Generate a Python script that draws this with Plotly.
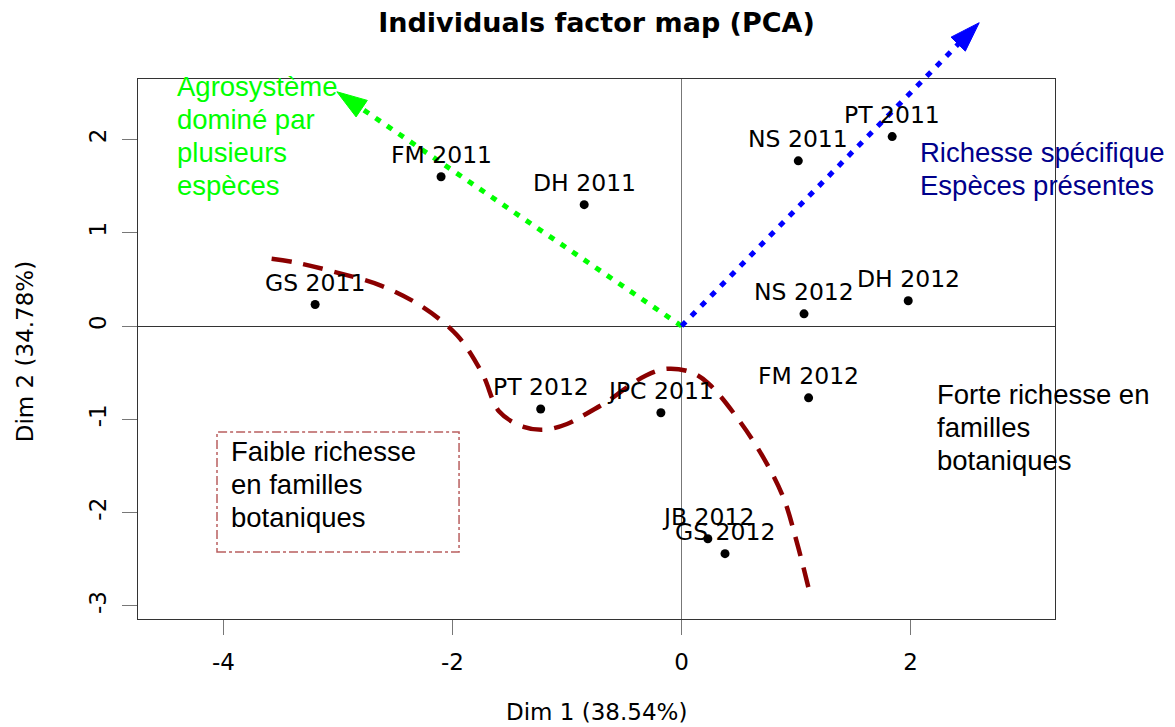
import math
import plotly.graph_objects as go

# ---------------- data ----------------
labels = ["FM 2011", "DH 2011", "GS 2011", "NS 2011", "PT 2011", "NS 2012",
          "DH 2012", "PT 2012", "JPC 2011", "FM 2012", "JB 2012", "GS 2012"]
dim1 = [-2.10, -0.85, -3.20, 1.02, 1.84, 1.07, 1.98, -1.23, -0.18, 1.11, 0.23, 0.38]
dim2 = [1.60, 1.30, 0.23, 1.77, 2.03, 0.13, 0.27, -0.89, -0.93, -0.77, -2.28, -2.44]

curve_x = [-3.58, -3.37, -3.00, -2.62, -2.27, -1.96, -1.74, -1.59, -1.38, -1.19,
           -1.00, -0.83, -0.65, -0.48, -0.31, -0.14, 0.07, 0.23, 0.49, 0.71, 0.89, 1.01, 1.11]
curve_y = [0.72, 0.68, 0.57, 0.43, 0.21, -0.10, -0.51, -0.92, -1.08, -1.11,
           -1.05, -0.94, -0.81, -0.66, -0.53, -0.46, -0.49, -0.61, -0.99, -1.40, -1.84, -2.33, -2.81]

arrow_tip_x = [-3.01, 2.60]
arrow_tip_y = [2.51, 3.25]
arrow_colors = ["#00FF00", "#0000FF"]

x_ticks = [-4, -2, 0, 2]
y_ticks = [-3, -2, -1, 0, 1, 2]

title_text = "Individuals factor map (PCA)"
x_title = "Dim 1 (38.54%)"
y_title = "Dim 2 (34.78%)"

green_lines = ["Agrosystème", "dominé par", "plusieurs", "espèces"]
blue_lines = ["Richesse spécifique", "Espèces présentes"]
forte_lines = ["Forte richesse en", "familles", "botaniques"]
faible_lines = ["Faible richesse", "en familles", "botaniques"]

# ---------------- layout geometry ----------------
# the page body has an 8px margin, so the figure is 8px smaller on the right/bottom
OFF = 8
FIG_W, FIG_H = 1175 - OFF, 727 - OFF
ML, MT = 138 - OFF, 79 - OFF
MR, MB = FIG_W - (1055 - OFF), FIG_H - (619 - OFF)
PW, PH = FIG_W - ML - MR, FIG_H - MT - MB
XR = [-4.747, 3.262]
YR = [-3.140, 2.647]


def to_px(x, y):
    return (ML + (x - XR[0]) / (XR[1] - XR[0]) * PW,
            MT + (YR[1] - y) / (YR[1] - YR[0]) * PH)


def px_to_paper(px, py):
    return ((px - ML) / PW, (MT + PH - py) / PH)


fig = go.Figure()

# dashed dark-red curve
fig.add_trace(go.Scatter(
    x=curve_x, y=curve_y, mode="lines",
    line=dict(color="#8B0000", width=4.5, dash="20px,12px", shape="spline", smoothing=1.0),
    hoverinfo="skip", showlegend=False))

# individuals
fig.add_trace(go.Scatter(
    x=dim1, y=dim2, mode="markers",
    marker=dict(color="black", size=9),
    showlegend=False, hoverinfo="text", text=labels))

shapes = []
annotations = []

# arrows (dotted line + filled head), drawn in paper space so they can leave the plot area
ox, oy = to_px(0, 0)
for tx, ty, col in zip(arrow_tip_x, arrow_tip_y, arrow_colors):
    px, py = to_px(tx, ty)
    dx, dy = px - ox, py - oy
    L = math.hypot(dx, dy)
    ux, uy = dx / L, dy / L
    nx, ny = -uy, ux
    head_len, half_w = 30, 10
    bx, by = px - head_len * ux, py - head_len * uy
    ex, ey = bx + 4 * ux, by + 4 * uy
    p0 = px_to_paper(ox, oy)
    p1 = px_to_paper(ex, ey)
    shapes.append(dict(type="line", xref="paper", yref="paper",
                       x0=p0[0], y0=p0[1], x1=p1[0], y1=p1[1],
                       line=dict(color=col, width=5, dash="6px,8px")))
    c1 = px_to_paper(bx + half_w * nx, by + half_w * ny)
    c2 = px_to_paper(bx - half_w * nx, by - half_w * ny)
    tp = px_to_paper(px, py)
    path = f"M {tp[0]},{tp[1]} L {c1[0]},{c1[1]} L {c2[0]},{c2[1]} Z"
    shapes.append(dict(type="path", xref="paper", yref="paper", path=path,
                       fillcolor=col, line=dict(color=col, width=1)))

# dash-dot box
shapes.append(dict(type="rect", xref="x", yref="y", x0=-4.057, x1=-1.943, y0=-2.422, y1=-1.136,
                   line=dict(color="rgba(160,40,40,0.75)", width=1.5, dash="dashdot")))

# point labels
for lab, x, y in zip(labels, dim1, dim2):
    annotations.append(dict(x=x, y=y, xref="x", yref="y", text=lab, showarrow=False,
                            yshift=22, xanchor="center", yanchor="middle",
                            font=dict(family="DejaVu Sans", size=23.5, color="black")))


# text blocks
def add_block(lines, x, y, color):
    for i, t in enumerate(lines):
        annotations.append(dict(x=x, y=y, xref="x", yref="y", text=t, showarrow=False,
                                xanchor="left", yanchor="middle", yshift=-33 * i,
                                font=dict(family="Liberation Sans", size=27.5, color=color)))


add_block(green_lines, -4.42, 2.567, "#00FF00")
add_block(blue_lines, 2.065, 1.860, "#00008B")
add_block(forte_lines, 2.214, -0.734, "black")
add_block(faible_lines, -3.952, -1.344, "black")

# axis titles
annotations.append(dict(x=0.5, y=-(712 - 619) / PH, xref="paper", yref="paper",
                        text=x_title, showarrow=False, xanchor="center", yanchor="middle",
                        font=dict(family="DejaVu Sans", size=23, color="black")))
annotations.append(dict(x=(25 - 138) / PW, y=0.494, xref="paper", yref="paper",
                        text=y_title, showarrow=False, textangle=-90,
                        xanchor="center", yanchor="middle",
                        font=dict(family="DejaVu Sans", size=23, color="black")))

fig.update_layout(
    width=FIG_W, height=FIG_H,
    margin=dict(l=ML, r=MR, t=MT, b=MB, pad=0),
    paper_bgcolor="white", plot_bgcolor="white",
    title=dict(text=title_text, x=0.5, xref="paper", xanchor="center",
               y=1 - (23 - OFF) / FIG_H, yref="container", yanchor="middle",
               font=dict(family="DejaVu Sans", size=27, color="black", weight="bold")),
    shapes=shapes, annotations=annotations,
    showlegend=False,
)

fig.update_xaxes(range=XR, tickvals=x_ticks, ticktext=[str(v) for v in x_ticks],
                 showgrid=False, zeroline=True, zerolinecolor="#777", zerolinewidth=1.2,
                 showline=True, linecolor="#333", linewidth=1.2, mirror=True,
                 ticks="outside", ticklen=15, tickcolor="#777", tickwidth=1.2,
                 ticklabelstandoff=7,
                 tickfont=dict(family="DejaVu Sans", size=23, color="black"))
fig.update_yaxes(range=YR, tickvals=y_ticks, ticktext=[str(v) for v in y_ticks],
                 showgrid=False, zeroline=True, zerolinecolor="#333", zerolinewidth=1.2,
                 showline=True, linecolor="#333", linewidth=1.2, mirror=True,
                 ticks="outside", ticklen=15, tickcolor="#777", tickwidth=1.2,
                 tickangle=-90, ticklabelstandoff=7,
                 tickfont=dict(family="DejaVu Sans", size=23, color="black"))

fig.write_html("out.html")
